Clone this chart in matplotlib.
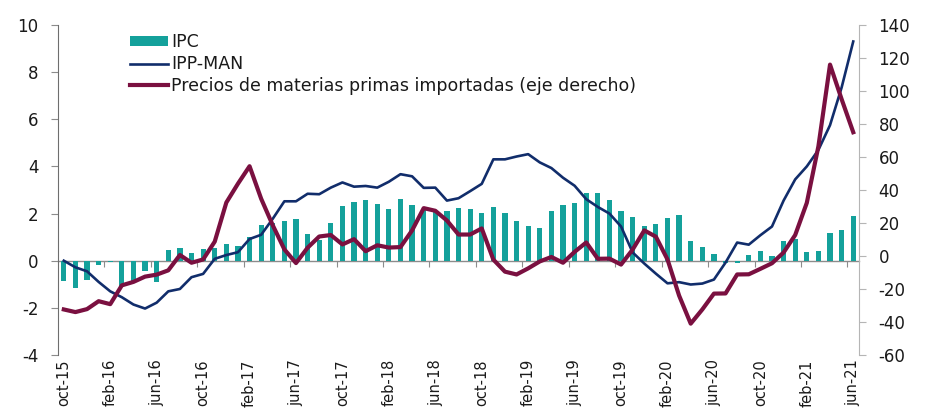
import matplotlib.pyplot as plt
import numpy as np

plt.rcParams['font.family'] = ['DejaVu Sans']
plt.rcParams['axes.unicode_minus'] = False

# monthly series, oct-15 .. jun-21
tick_labels = ['oct-15', 'feb-16', 'jun-16', 'oct-16', 'feb-17', 'jun-17',
               'oct-17', 'feb-18', 'jun-18', 'oct-18', 'feb-19', 'jun-19',
               'oct-19', 'feb-20', 'jun-20', 'oct-20', 'feb-21', 'jun-21']

ipc = [-0.85, -1.17, -0.82, -0.2, -0.05, -1.1, -0.9, -0.42, -0.9, 0.45,
       0.53, 0.34, 0.5, 0.52, 0.7, 0.64, 1.0, 1.5, 1.6, 1.7,
       1.77, 1.12, 0.88, 1.62, 2.33, 2.49, 2.57, 2.4, 2.2, 2.6,
       2.36, 2.18, 2.1, 2.1, 2.23, 2.2, 2.02, 2.28, 2.02, 1.68,
       1.46, 1.38, 2.1, 2.36, 2.43, 2.88, 2.88, 2.57, 2.1, 1.87,
       1.47, 1.54, 1.81, 1.92, 0.85, 0.57, 0.27, -0.1, -0.08, 0.26,
       0.42, 0.2, 0.84, 0.9, 0.35, 0.42, 1.16, 1.3, 1.9]

ipp_man = [0.0, -0.28, -0.45, -0.9, -1.3, -1.55, -1.86, -2.03, -1.78, -1.3,
           -1.2, -0.7, -0.56, 0.08, 0.24, 0.36, 0.92, 1.1, 1.78, 2.52,
           2.52, 2.84, 2.82, 3.1, 3.32, 3.14, 3.17, 3.1, 3.35, 3.67,
           3.58, 3.09, 3.1, 2.55, 2.65, 2.95, 3.26, 4.3, 4.3, 4.42,
           4.52, 4.17, 3.93, 3.52, 3.18, 2.61, 2.28, 2.0, 1.45, 0.35,
           -0.12, -0.55, -0.96, -0.91, -1.01, -0.97, -0.8, -0.08, 0.77, 0.68,
           1.08, 1.45, 2.55, 3.45, 4.0, 4.7, 5.75, 7.35, 9.3]

materias = [-32.4, -34, -32.2, -27.4, -29.2, -17.8, -15.7, -12.5, -11.3, -8.7,
            0.6, -4.1, -2.1, 8.7, 32.4, 43.8, 54.4, 34.7, 18.6, 4,
            -4.3, 5, 11.8, 12.7, 7, 10.2, 2.9, 6.5, 5.1, 5.4,
            15.5, 29, 27.4, 21.5, 13, 13, 16.7, -2.2, -9.5, -11.2,
            -7.5, -3.3, -0.6, -4.1, 2.5, 8.2, -1.7, -1.6, -5.2, 3.9,
            15.5, 11.7, -2.1, -24, -41, -32.4, -22.8, -22.7, -11.2, -11.1,
            -7.8, -4.4, 2.1, 12.7, 32.2, 66.5, 116, 95, 75]

months = np.arange(len(ipc))

teal = '#14a19b'
navy = '#112d6b'
maroon = '#7a1040'
grey = '#8c8c8c'
text_c = '#1a1a1a'

fig = plt.figure(figsize=(9.25, 4.11), dpi=100)
ax = fig.add_axes([0.0627, 0.1363, 0.866, 0.8029])
ax2 = ax.twinx()

bars = ax.bar(months, ipc, width=0.45, color=teal, zorder=2, label='IPC')
l1, = ax.plot(months, ipp_man, color=navy, lw=1.9, zorder=3, label='IPP-MAN')
l2, = ax2.plot(months, materias, color=maroon, lw=3.0, zorder=3,
               label='Precios de materias primas importadas (eje derecho)')

ax.set_xlim(-0.5, len(ipc) - 0.5)
ax.set_ylim(-4, 10)
ax.set_yticks(np.arange(-4, 11, 2))
ax2.set_ylim(-60, 140)
ax2.set_yticks(np.arange(-60, 141, 20))

# category labels under the plot, rotated
ax.set_xticks(months[::4])
ax.set_xticklabels(tick_labels, rotation=90, fontsize=10.5, color=text_c)
ax.tick_params(axis='x', length=0, pad=3)

# zero line with tick marks between groups of four months
zero_pos = (0 - ax.get_ylim()[0]) / (ax.get_ylim()[1] - ax.get_ylim()[0])
zx = ax.secondary_xaxis(zero_pos)
zx.set_xticks(months[::4][1:] - 0.5)
zx.tick_params(axis='x', length=4, color=grey, labelbottom=False, labeltop=False)
zx.spines['bottom'].set_color(grey)
zx.spines['bottom'].set_linewidth(1.0)

for s in ['top', 'right', 'bottom']:
    ax.spines[s].set_visible(False)
for s in ['top', 'left', 'bottom']:
    ax2.spines[s].set_visible(False)
ax.spines['left'].set_color('#6e6e6e')
ax2.spines['right'].set_color('#b5b5b5')

ax.tick_params(axis='y', length=5, color=grey, labelsize=12, labelcolor=text_c, pad=9)
ax2.tick_params(axis='y', length=5, color='#b5b5b5', labelsize=12, labelcolor=text_c, pad=9)

ax2.legend([bars, l1, l2], [bars.get_label(), l1.get_label(), l2.get_label()],
           loc='upper left', bbox_to_anchor=(0.09, 0.975), frameon=False,
           fontsize=12.5, borderpad=0, borderaxespad=0, labelspacing=0.22,
           handlelength=2.2, handleheight=0.5, handletextpad=0.15,
           labelcolor=text_c)

fig.savefig('out.png', dpi=100, facecolor='white')
